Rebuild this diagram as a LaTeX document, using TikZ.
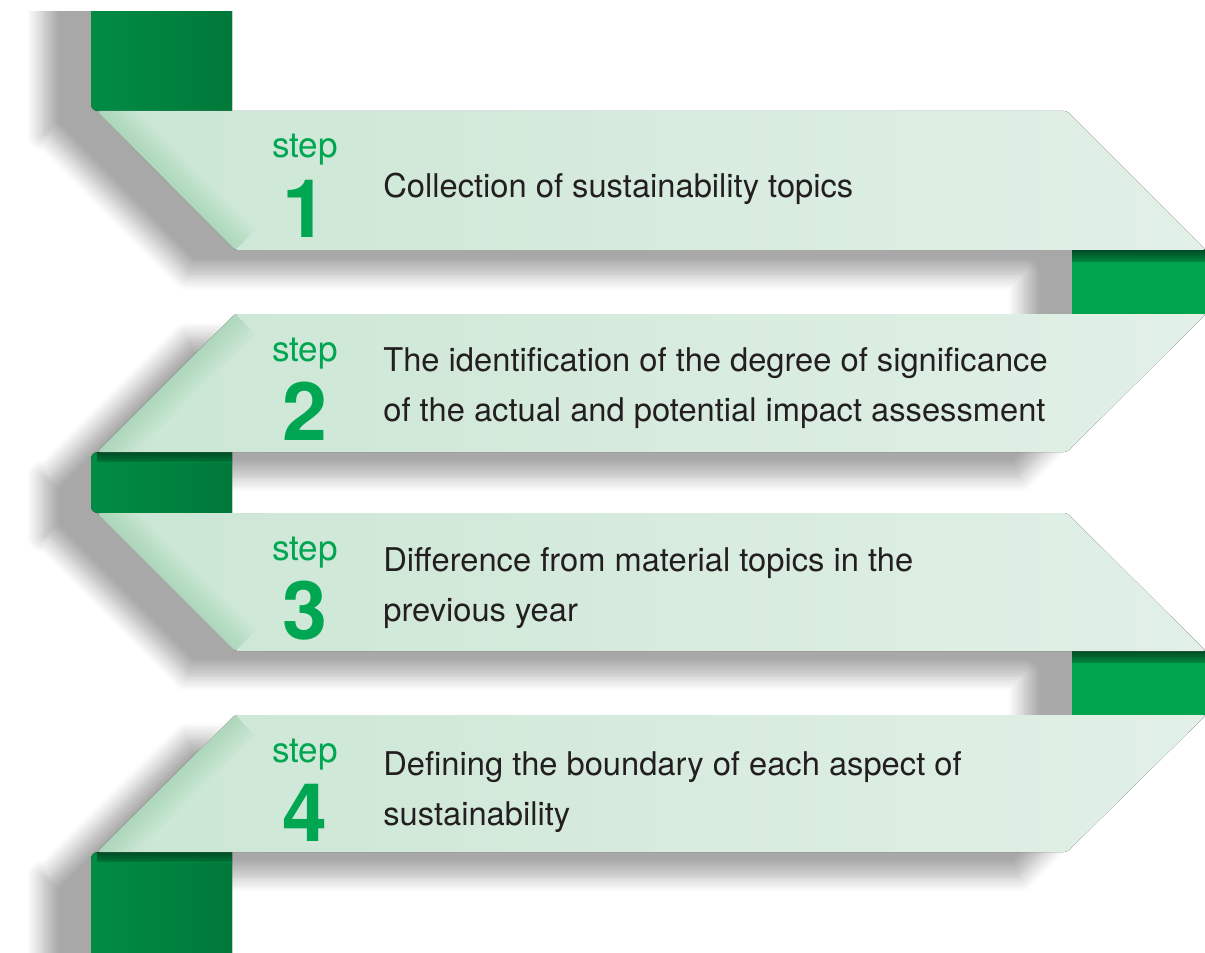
\documentclass[tikz,border=0pt]{standalone}
\usepackage{fontspec}
\setmainfont{TeX Gyre Heros}
\usetikzlibrary{shadows.blur}

\definecolor{stepgreen}{RGB}{0,166,81}
\definecolor{bodytext}{RGB}{35,31,32}
\definecolor{bandleft}{RGB}{203,230,212}
\definecolor{bandright}{RGB}{226,240,231}
\definecolor{bandedge}{RGB}{160,214,178}
\definecolor{foldlight}{RGB}{0,140,68}
\definecolor{folddark}{RGB}{0,120,58}
\definecolor{foldbright}{RGB}{0,163,78}
\definecolor{foldshade}{RGB}{0,88,42}

\tikzset{
    band/.style={left color=bandleft, right color=bandright, rounded corners=0.06cm},
    edgeglow/.style={bandedge, opacity=0.05},
    backfold/.style={left color=foldlight, right color=folddark},
    frontfold/.style={fill=foldbright},
    foldtop/.style={top color=foldshade, bottom color=foldbright, opacity=0.8},
    steplabel/.style={text=stepgreen, font=\fontsize{20}{24}\selectfont, anchor=base},
    stepnum/.style={text=stepgreen, font=\fontsize{46}{50}\selectfont\bfseries, anchor=base},
    topic/.style={text=bodytext, font=\fontsize{18.6}{28.4}\selectfont, anchor=base west,
        align=left, inner sep=0pt},
}

\begin{document}
\begin{tikzpicture}[x=0.02cm, y=-0.02cm]

    \useasboundingbox (0,0) rectangle (1205,953);
    \clip (15,12) rectangle (1205,953);

    %% Shadow of the whole ribbon
    \path[blur shadow={shadow xshift=-0.96cm, shadow yshift=-0.48cm,
            shadow blur radius=0.32cm, shadow blur steps=12, shadow opacity=34}]
        (91,-80) -- (232,-80) -- (232,111) -- (1067,111) -- (1205,250)
        -- (1205,314) -- (1067,452) -- (232,452) -- (232,513) -- (1067,513)
        -- (1205,651) -- (1205,715) -- (1067,852) -- (232,852) -- (232,1040)
        -- (91,1040) -- (91,852) -- (97,852) -- (235,715) -- (1072,715)
        -- (1072,651) -- (235,651) -- (97,513) -- (91,513) -- (91,452)
        -- (97,452) -- (235,314) -- (1072,314) -- (1072,250) -- (235,250)
        -- (97,111) -- (91,111) -- cycle;

    %% Folds behind the bands
    % top end
    \fill[backfold] (232,-80) -- (91,-80) [rounded corners=0.14cm] -- (91,111) [sharp corners] -- (232,111) -- cycle;

    % right fold, step 1 to 2
    \fill[frontfold] (1072,250) rectangle (1210,314);
    \fill[foldtop] (1072,250) rectangle (1210,262);

    % left fold, step 2 to 3
    \fill[backfold] (232,452) [rounded corners=0.14cm] -- (91,452) -- (91,513) [sharp corners] -- (232,513) -- cycle;
    \fill[foldtop, top color=foldshade, bottom color=foldlight] (97,452) rectangle (232,462);

    % right fold, step 3 to 4
    \fill[frontfold] (1072,651) rectangle (1210,715);
    \fill[foldtop] (1072,651) rectangle (1210,663);

    % bottom end
    \fill[backfold] (232,1040) -- (232,852) [rounded corners=0.14cm] -- (91,852) [sharp corners] -- (91,1040) -- cycle;
    \fill[foldtop, top color=foldshade, bottom color=foldlight] (97,852) rectangle (232,862);

    %% Bands
    % step 1
    \fill[band] (97,111) -- (1067,111) -- (1206,250) -- (235,250) -- cycle;
    \begin{scope}
        \clip[rounded corners=0.06cm] (97,111) -- (1067,111) -- (1205,250) -- (235,250) -- cycle;
        \foreach \w in {2,4,...,32}
            \draw[edgeglow, line width=\w pt] (97,111) -- (235,250);
    \end{scope}

    % step 2
    \fill[band] (235,314) -- (1206,314) -- (1067,452) -- (97,452) -- cycle;
    \begin{scope}
        \clip[rounded corners=0.06cm] (235,314) -- (1205,314) -- (1067,452) -- (97,452) -- cycle;
        \foreach \w in {2,4,...,32}
            \draw[edgeglow, line width=\w pt] (235,314) -- (97,452);
    \end{scope}

    % step 3
    \fill[band] (97,513) -- (1067,513) -- (1206,651) -- (235,651) -- cycle;
    \begin{scope}
        \clip[rounded corners=0.06cm] (97,513) -- (1067,513) -- (1205,651) -- (235,651) -- cycle;
        \foreach \w in {2,4,...,32}
            \draw[edgeglow, line width=\w pt] (97,513) -- (235,651);
    \end{scope}

    % step 4
    \fill[band] (235,715) -- (1206,715) -- (1067,852) -- (97,852) -- cycle;
    \begin{scope}
        \clip[rounded corners=0.06cm] (235,715) -- (1205,715) -- (1067,852) -- (97,852) -- cycle;
        \foreach \w in {2,4,...,32}
            \draw[edgeglow, line width=\w pt] (235,715) -- (97,852);
    \end{scope}

    %% Labels
    \node[steplabel] (s1) at (305,158) {step};
    \node[stepnum]   (n1) at (305,237) {1};
    \node[topic]     (t1) at (383,197) {Collection of sustainability topics};

    \node[steplabel] (s2) at (305,361) {step};
    \node[stepnum]   (n2) at (305,440) {2};
    \node[topic]     (t2) at (383,421) {The identification of the degree of significance\\of the actual and potential impact assessment};

    \node[steplabel] (s3) at (305,560) {step};
    \node[stepnum]   (n3) at (305,639) {3};
    \node[topic]     (t3) at (383,621) {Difference from material topics in the\\previous year};

    \node[steplabel] (s4) at (305,762) {step};
    \node[stepnum]   (n4) at (305,841) {4};
    \node[topic]     (t4) at (383,825) {Defining the boundary of each aspect of\\sustainability};

\end{tikzpicture}
\end{document}
